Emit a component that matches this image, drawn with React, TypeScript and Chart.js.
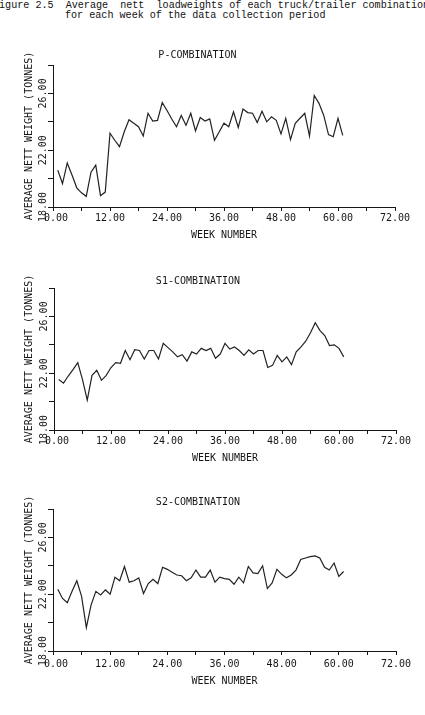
import React, { useEffect, useRef } from 'react';
import { Chart, registerables } from 'chart.js';

Chart.register(...registerables);

// Week numbers of the data collection period
const weeks = [
  1, 2, 3, 4, 5, 6, 7, 8, 9, 10, 11, 12, 13, 14, 15, 16, 17, 18, 19, 20,
  21, 22, 23, 24, 25, 26, 27, 28, 29, 30, 31, 32, 33, 34, 35, 36, 37, 38, 39, 40,
  41, 42, 43, 44, 45, 46, 47, 48, 49, 50, 51, 52, 53, 54, 55, 56, 57, 58, 59, 60, 61,
];

// Average nett loadweight (tonnes) per week
const pCombination = [
  20.6, 19.65, 21.1, 20.25, 19.35, 19.0, 18.75, 20.45, 20.95, 18.8,
  19.05, 23.2, 22.7, 22.25, 23.3, 24.15, 23.9, 23.65, 23.0, 24.6,
  24.05, 24.1, 25.35, 24.8, 24.2, 23.65, 24.45, 23.75, 24.6, 23.35,
  24.3, 24.05, 24.2, 22.7, 23.3, 23.9, 23.65, 24.7, 23.6, 24.9,
  24.65, 24.6, 23.95, 24.75, 24.0, 24.35, 24.1, 23.15, 24.25, 22.75,
  23.9, 24.25, 24.6, 23.0, 25.85, 25.3, 24.45, 23.1, 22.95, 24.25, 23.05,
];

const s1Combination = [
  21.55, 21.3, 21.8, 22.25, 22.75, 21.55, 20.1, 21.85, 22.2, 21.5,
  21.85, 22.4, 22.75, 22.7, 23.6, 22.95, 23.65, 23.6, 23.0, 23.6,
  23.6, 23.0, 24.1, 23.8, 23.5, 23.15, 23.3, 22.85, 23.5, 23.35,
  23.75, 23.6, 23.75, 23.05, 23.35, 24.1, 23.7, 23.85, 23.6, 23.25,
  23.65, 23.35, 23.6, 23.6, 22.4, 22.55, 23.25, 22.8, 23.15, 22.6,
  23.5, 23.85, 24.25, 24.85, 25.55, 25.0, 24.65, 23.95, 24.0, 23.75, 23.15,
];

const s2Combination = [
  22.35, 21.7, 21.4, 22.2, 22.95, 21.85, 19.65, 21.25, 22.2, 21.95,
  22.3, 22.0, 23.2, 22.95, 23.95, 22.85, 22.95, 23.15, 22.05, 22.75,
  23.05, 22.75, 23.9, 23.75, 23.55, 23.35, 23.3, 22.95, 23.15, 23.7,
  23.2, 23.2, 23.7, 22.85, 23.2, 23.1, 23.05, 22.7, 23.2, 22.8,
  23.95, 23.5, 23.45, 24.0, 22.4, 22.8, 23.75, 23.4, 23.15, 23.35,
  23.7, 24.45, 24.55, 24.65, 24.7, 24.55, 23.9, 23.7, 24.2, 23.25, 23.6,
];

// Axis ranges and labelled ticks
const xMin = 0;
const xMax = 72;
const xStep = 6;
const xLabelEvery = 12;
const yMin = 18;
const yMax = 28;
const yStep = 2;
const yLabelValues = [18, 22, 26];

const INK = '#161616';
const PLOT_FONT = '"DejaVu Sans Mono", "Liberation Mono", monospace';

type PanelLayout = {
  areaTop: number;
  areaBottom: number;
  left: number;
  right: number;
  titleGap: number;
  tickLabelGap: number;
  axisTitleGap: number;
};

const HEAD = 25;
const FOOT = 40;

// Fixed-width "%5.2f" style tick text, as a plotter would print it
const fmt = (v: number) => v.toFixed(2).padStart(5, ' ');

const verticalYLabels = {
  id: 'verticalYLabels',
  afterDraw(chart: any) {
    const { ctx } = chart;
    const y = chart.scales.y;
    ctx.save();
    ctx.font = `10px ${PLOT_FONT}`;
    ctx.fillStyle = INK;
    ctx.textAlign = 'center';
    ctx.textBaseline = 'middle';
    for (const v of yLabelValues) {
      const py = y.getPixelForValue(v);
      ctx.save();
      ctx.translate(y.right - 10, py);
      ctx.rotate(-Math.PI / 2);
      ctx.fillText(fmt(v), 0, 0);
      ctx.restore();
    }
    ctx.restore();
  },
};

function Panel({ title, values, layout }: { title: string; values: number[]; layout: PanelLayout }) {
  const ref = useRef<HTMLCanvasElement | null>(null);
  const canvasTop = layout.areaTop - HEAD;
  const canvasHeight = layout.areaBottom - layout.areaTop + HEAD + FOOT;

  useEffect(() => {
    if (!ref.current) return;
    const titleTop = HEAD - layout.titleGap - 6;
    const titleBottom = HEAD - 12 - titleTop;
    const chart = new Chart(ref.current, {
      type: 'line',
      data: {
        datasets: [
          {
            data: weeks.map((w, i) => ({ x: w, y: values[i] })),
            borderColor: '#222222',
            borderWidth: 1.2,
            pointRadius: 0,
            tension: 0,
            fill: false,
          },
        ],
      },
      options: {
        responsive: false,
        animation: false,
        devicePixelRatio: 1,
        layout: { padding: { top: 0, left: 0, right: 425 - layout.right, bottom: 0 } },
        plugins: {
          legend: { display: false },
          tooltip: { enabled: false },
          title: {
            display: true,
            text: title,
            color: INK,
            font: { family: PLOT_FONT, size: 10, weight: 'normal', lineHeight: 1.2 },
            padding: { top: titleTop, bottom: titleBottom },
          },
        },
        scales: {
          x: {
            type: 'linear',
            min: xMin,
            max: xMax,
            afterFit: (s: any) => {
              s.height = FOOT;
            },
            border: { display: true, color: INK, width: 1 },
            grid: { drawOnChartArea: false, drawTicks: true, tickLength: 4, color: INK, lineWidth: 1 },
            ticks: {
              stepSize: xStep,
              autoSkip: false,
              maxRotation: 0,
              minRotation: 0,
              padding: layout.tickLabelGap - 10,
              color: INK,
              font: { family: PLOT_FONT, size: 10, lineHeight: 1.2 },
              callback: (v: any) => (Number(v) % xLabelEvery === 0 ? fmt(Number(v)) : ''),
            },
            title: {
              display: true,
              text: 'WEEK NUMBER',
              color: INK,
              font: { family: PLOT_FONT, size: 10, lineHeight: 1.2 },
              padding: { top: 0, bottom: FOOT - 6 - layout.axisTitleGap },
            },
          },
          y: {
            type: 'linear',
            min: yMin,
            max: yMax,
            afterFit: (s: any) => {
              s.width = layout.left;
            },
            border: { display: true, color: INK, width: 1 },
            grid: { drawOnChartArea: false, drawTicks: true, tickLength: 5, color: INK, lineWidth: 1 },
            ticks: { display: false, stepSize: yStep },
            title: {
              display: true,
              text: 'AVERAGE NETT WEIGHT (TONNES)',
              color: INK,
              font: { family: PLOT_FONT, size: 10, lineHeight: 1.2 },
              padding: { top: 23, bottom: 0 },
            },
          },
        },
      },
      plugins: [verticalYLabels],
    });
    return () => chart.destroy();
  }, [title, values, layout]);

  return (
    <canvas
      ref={ref}
      width={425}
      height={canvasHeight}
      style={{ position: 'absolute', left: 0, top: canvasTop, width: 425, height: canvasHeight }}
    />
  );
}

const layoutP: PanelLayout = { areaTop: 65, areaBottom: 207, left: 53, right: 395, titleGap: 10, tickLabelGap: 11.5, axisTitleGap: 28 };
const layoutS1: PanelLayout = { areaTop: 288, areaBottom: 430, left: 54, right: 396, titleGap: 6.5, tickLabelGap: 11.5, axisTitleGap: 28.5 };
const layoutS2: PanelLayout = { areaTop: 509, areaBottom: 651, left: 53, right: 396, titleGap: 7, tickLabelGap: 13, axisTitleGap: 30 };

const captionStyle: React.CSSProperties = {
  position: 'absolute',
  fontFamily: '"Liberation Mono", "Courier New", monospace',
  fontSize: 10.1,
  lineHeight: '10px',
  color: '#111111',
  whiteSpace: 'pre',
  margin: 0,
};

export default function App() {
  return (
    <div
      style={{
        position: 'absolute',
        left: 0,
        top: 0,
        width: 425,
        height: 715,
        overflow: 'hidden',
        background: '#ffffff',
      }}
    >
      <div style={{ ...captionStyle, left: -7, top: 1 }}>
        {'Figure 2.5  Average  nett  loadweights of each truck/trailer combination'}
      </div>
      <div style={{ ...captionStyle, left: 65, top: 11 }}>
        {'for each week of the data collection period'}
      </div>
      <Panel title="P-COMBINATION" values={pCombination} layout={layoutP} />
      <Panel title="S1-COMBINATION" values={s1Combination} layout={layoutS1} />
      <Panel title="S2-COMBINATION" values={s2Combination} layout={layoutS2} />
    </div>
  );
}
